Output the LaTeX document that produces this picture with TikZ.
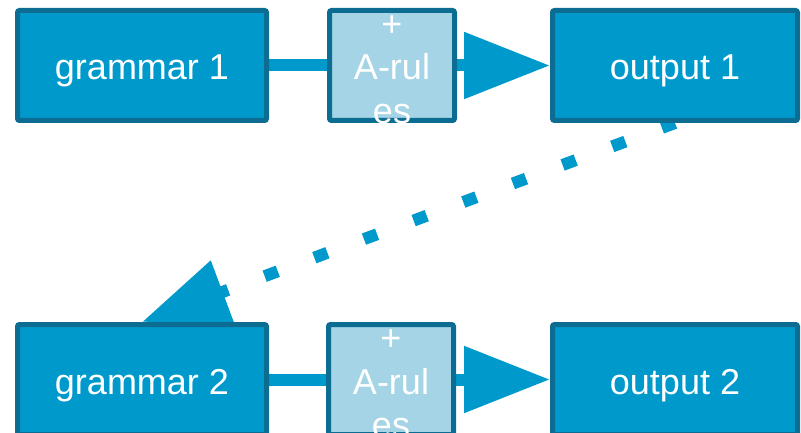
\documentclass[tikz,border=0pt]{standalone}
\usepackage{fontspec}
\setmainfont{Liberation Sans}
\usetikzlibrary{arrows.meta,backgrounds}
\definecolor{boxblue}{RGB}{0,153,204}
\definecolor{edgeblue}{RGB}{12,108,146}
\definecolor{lightblue}{RGB}{164,212,230}
\begin{document}
\begin{tikzpicture}[x=1pt,y=-1pt,
  box/.style={draw=edgeblue, line width=5pt, fill=boxblue, rounded corners=2pt,
    minimum height=110pt, inner sep=0pt, text=white,
    font=\fontsize{36}{43.5}\selectfont, text height=36pt, text depth=7pt},
  bigbox/.style={box, minimum width=249pt},
  outbox/.style={box, minimum width=245pt},
  rulebox/.style={box, fill=lightblue, minimum width=125pt},
  ruletext/.style={text=white, font=\fontsize{36}{43.5}\selectfont, align=center, inner sep=0pt},
  flow/.style={line width=12pt, draw=boxblue, -{Triangle[length=86pt,width=64pt]}},
  feedback/.style={flow, dash pattern=on 14pt off 39pt}]
\useasboundingbox (0,0) rectangle (801,433);
\node[bigbox] (g1) at (142,65.5) {grammar 1};
\node[rulebox] (r1) at (392,65.5) {};
\node[outbox] (o1) at (675,65.5) {output 1};
\node[bigbox] (g2) at (142,379.5) {grammar 2};
\node[rulebox] (r2) at (391,379.5) {};
\node[outbox] (o2) at (675,379.5) {output 2};
\begin{scope}
  \clip (r1.north west) rectangle (r1.south east);
  \node[ruletext] (t1) at (392,71.3) {\strut+\\\strut A-rul\\\strut es};
\end{scope}
\begin{scope}
  \clip (r2.north west) rectangle (r2.south east);
  \node[ruletext] (t2) at (391,385.3) {\strut+\\\strut A-rul\\\strut es};
\end{scope}
\begin{scope}[on background layer]
  \draw[flow] (g1) -- (o1);
  \draw[flow] (g2) -- (o2);
  \draw[feedback] (o1.south) -- (g2.north);
\end{scope}
\end{tikzpicture}
\end{document}
